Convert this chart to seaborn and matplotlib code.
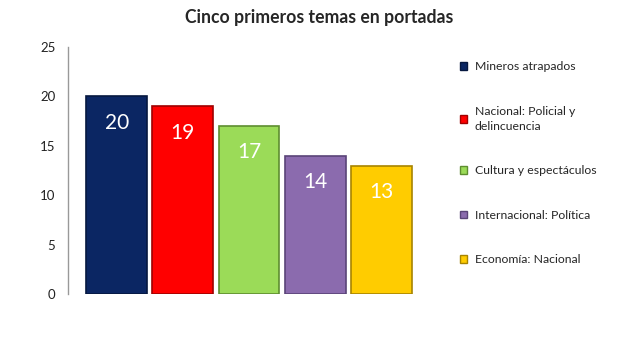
import matplotlib
matplotlib.use("Agg")
import matplotlib.pyplot as plt
import seaborn as sns
import pandas as pd
from matplotlib.patches import Patch

categories = ["Mineros atrapados", "Nacional: Policial y\ndelincuencia",
              "Cultura y espectáculos", "Internacional: Política",
              "Economía: Nacional"]
values = [20, 19, 17, 14, 13]
colors = ["#0B2663", "#FF0000", "#9BDB58", "#8B6BAE", "#FFCC00"]
edges = ["#061840", "#A00000", "#5E8E30", "#5A4478", "#A88400"]
yticks = [0, 5, 10, 15, 20, 25]
title = "Cinco primeros temas en portadas"

sns.set_theme(style="white")
plt.rcParams["font.family"] = ["Lato", "DejaVu Sans"]

df = pd.DataFrame({"cat": categories, "val": values})

fig = plt.figure(figsize=(6.19, 3.39), dpi=100)
ax = fig.add_axes([68/619, 45/339, (430-68)/619, (294-47)/339])

sns.barplot(data=df, x="cat", y="val", hue="cat", palette=colors,
            width=0.92, legend=False, ax=ax, saturation=1)
for p, ec in zip(ax.patches, edges):
    p.set_edgecolor(ec)
    p.set_linewidth(1.2)

for i, v in enumerate(values):
    ax.annotate(str(v), (i, v), xytext=(0, -19), textcoords="offset points",
                ha="center", va="center", color="white", fontsize=15)

ax.set_xlim(-0.735, 4.735)
ax.set_ylim(0, 25)
ax.set_yticks(yticks)
ax.set_xticks([])
ax.set_xlabel("")
ax.set_ylabel("")
ax.tick_params(axis="y", length=0, labelsize=9.5, pad=9, colors="#222222")
for s in ["top", "right", "bottom"]:
    ax.spines[s].set_visible(False)
ax.spines["left"].set_color("#999999")
ax.spines["left"].set_linewidth(1)

fig.text(319/619, 1 - 17/339, title, ha="center", va="center",
         fontsize=12.7, fontweight="bold")

handles = [Patch(facecolor=c, edgecolor=e) for c, e in zip(colors, edges)]
leg = fig.legend(handles, categories, loc="upper left",
                 bbox_to_anchor=(460/619, 1 - 61/339), frameon=False,
                 fontsize=8.8, labelspacing=2.75, handlelength=0.6,
                 handleheight=0.6, handletextpad=0.6, borderaxespad=0,
                 borderpad=0)
for t in leg.get_texts():
    t.set_linespacing(1.45)

fig.savefig("out.png", dpi=100)
